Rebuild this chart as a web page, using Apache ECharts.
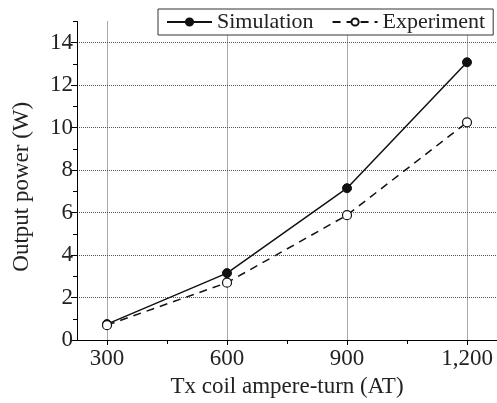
<!DOCTYPE html>
<html>
<head>
<meta charset="utf-8">
<script src="https://cdn.jsdelivr.net/npm/echarts@6/dist/echarts.min.js"></script>
<style>
html,body{margin:0;padding:0;background:#fff;}
#chart{width:497px;height:403px;}
</style>
</head>
<body>
<div id="chart"></div>
<script>
var xValues = [300, 600, 900, 1200];
var simulation = [0.75, 3.15, 7.15, 13.08];
var experiment = [0.70, 2.70, 5.88, 10.25];
var xTicks = [300, 600, 900, 1200];
var xMinorTicks = [450, 750, 1050];
var yTicks = [0, 2, 4, 6, 8, 10, 12, 14];
var yMinorTicks = [1, 3, 5, 7, 9, 11, 13, 15];

var FONT = 'Liberation Serif';
var FS = 23;
var chart = echarts.init(document.getElementById('chart'), null, {renderer: 'canvas'});

function pairs(xs, ys) { return xs.map(function (x, i) { return [x, ys[i]]; }); }

chart.setOption({
  animation: false,
  backgroundColor: '#fff',
  textStyle: {fontFamily: FONT, color: '#222'},
  grid: {left: 77, right: 0, top: 21.5, bottom: 62, containLabel: false},
  legend: {
    orient: 'horizontal',
    left: 158, top: 9, width: 340,
    padding: [2, 8, 2, 8],
    itemWidth: 45, itemHeight: 9, itemGap: 18,
    borderColor: '#333', borderWidth: 1,
    backgroundColor: '#fff',
    textStyle: {fontFamily: FONT, fontSize: 22, color: '#222'},
    data: ['Simulation', 'Experiment']
  },
  xAxis: [{
    type: 'value', min: 225, max: 1275,
    name: 'Tx coil ampere-turn (AT)', nameLocation: 'middle', nameGap: 35,
    nameTextStyle: {fontFamily: FONT, fontSize: FS, color: '#222'},
    axisLine: {show: true, onZero: false, lineStyle: {color: '#000', width: 1}},
    axisTick: {show: true, length: 5, customValues: xTicks, lineStyle: {color: '#000'}},
    axisLabel: {customValues: xTicks, margin: 7, fontFamily: FONT, fontSize: FS, color: '#222',
      formatter: function (v) { return v.toLocaleString('en-US'); }},
    splitLine: {show: true, lineStyle: {type: 'dotted', color: '#555', width: 1}}
  }, {
    type: 'value', min: 225, max: 1275, position: 'bottom',
    axisLine: {show: false},
    axisTick: {show: true, length: 4, customValues: xMinorTicks, lineStyle: {color: '#000'}},
    axisLabel: {show: false},
    splitLine: {show: false}
  }],
  yAxis: [{
    type: 'value', min: 0, max: 15,
    name: 'Output power (W)', nameLocation: 'middle', nameGap: 44,
    nameTextStyle: {fontFamily: FONT, fontSize: FS, color: '#222', padding: [0, 12, 0, 0]},
    axisLine: {show: true, onZero: false, lineStyle: {color: '#000', width: 1}},
    axisTick: {show: true, length: 6, customValues: yTicks, lineStyle: {color: '#000'}},
    axisLabel: {customValues: yTicks, margin: 4, fontFamily: FONT, fontSize: FS, color: '#222'},
    splitLine: {show: true, lineStyle: {type: 'dotted', color: '#555', width: 1}}
  }, {
    type: 'value', min: 0, max: 15, position: 'left',
    axisLine: {show: false},
    axisTick: {show: true, length: 4, customValues: yMinorTicks, lineStyle: {color: '#000'}},
    axisLabel: {show: false},
    splitLine: {show: false}
  }],
  series: [{
    name: 'Simulation', type: 'line', xAxisIndex: 0, yAxisIndex: 0,
    data: pairs(xValues, simulation),
    symbol: 'circle', symbolSize: 9,
    itemStyle: {color: '#111', borderColor: '#111', borderWidth: 1},
    lineStyle: {color: '#111', width: 1.5, type: 'solid'},
    z: 3
  }, {
    name: 'Experiment', type: 'line', xAxisIndex: 0, yAxisIndex: 0,
    data: pairs(xValues, experiment),
    symbol: 'circle', symbolSize: 9,
    itemStyle: {color: '#fff', borderColor: '#111', borderWidth: 1.2},
    lineStyle: {color: '#111', width: 1.5, type: [8, 6]},
    z: 4
  }]
});
</script>
</body>
</html>
